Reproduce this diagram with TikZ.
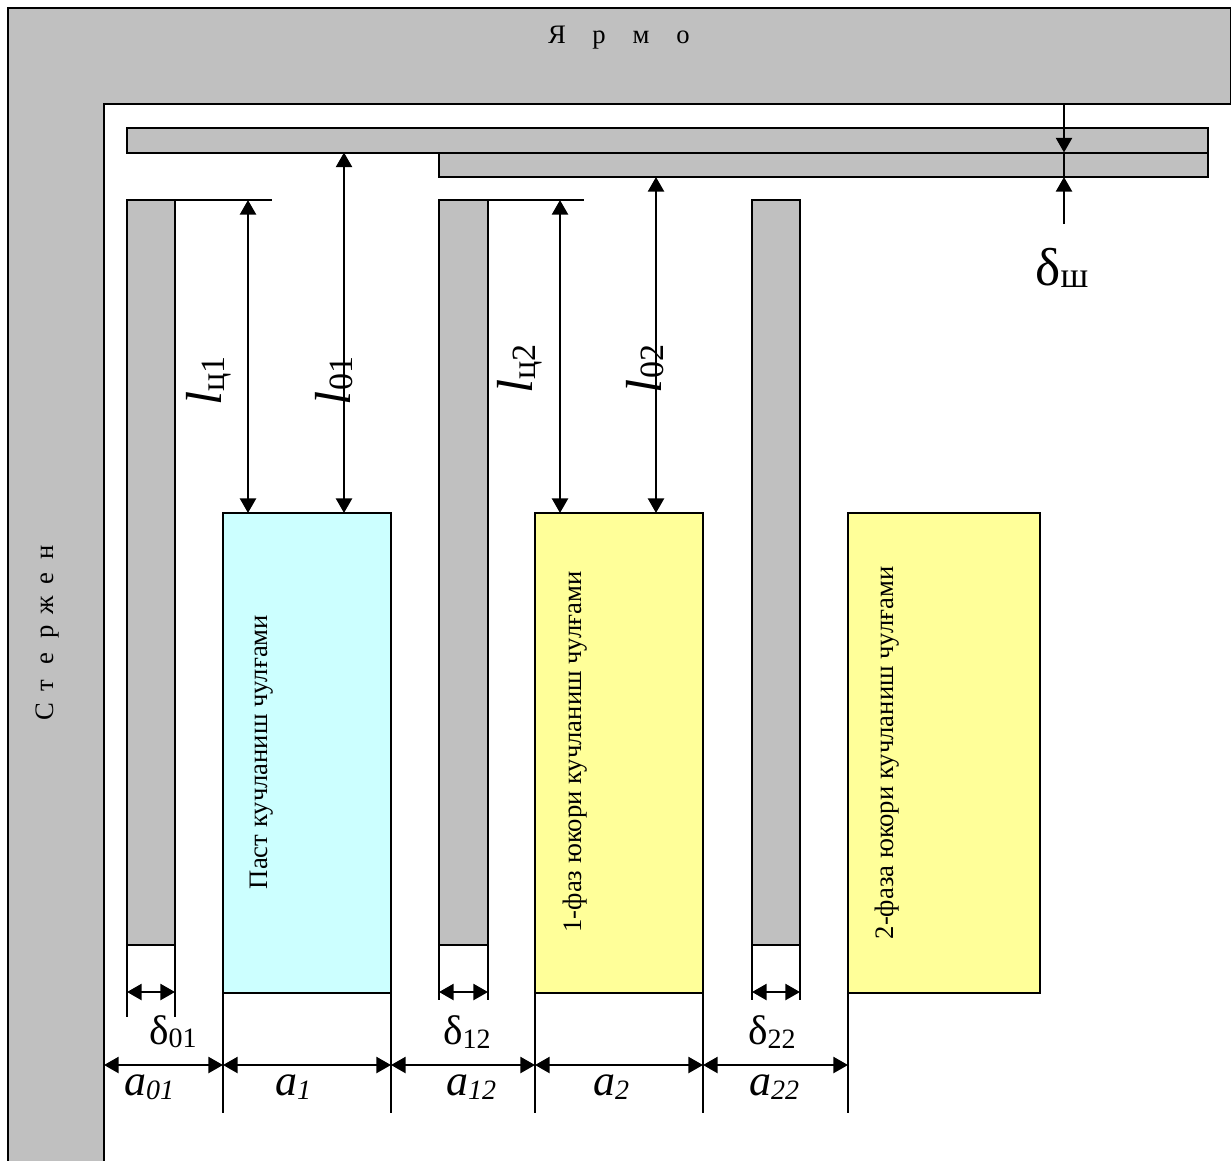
\documentclass[tikz,border=0pt]{standalone}
\usepackage{fontspec}
\setmainfont{Liberation Serif}
\usetikzlibrary{arrows.meta}
\newcommand{\fsz}[1]{\fontsize{#1}{#1}\selectfont}
\newcommand{\rectnode}[6]{%
  \pgfmathsetlengthmacro{\rw}{(#4-#2)*0.75pt}%
  \pgfmathsetlengthmacro{\rh}{(#5-#3)*0.75pt}%
  \node[#6,minimum width=\rw,minimum height=\rh] (#1) at ({(#2+#4)/2},{(#3+#5)/2}) {};}
\newcommand{\dellab}[1]{{\fsz{31pt}δ}\raisebox{-0.25em}{\fsz{21pt}#1}}
\newcommand{\alab}[1]{{\fsz{33pt}\itshape a}\raisebox{-0.28em}{\fsz{21pt}\itshape #1}}
\newcommand{\lenlab}[1]{{\fsz{38pt}\itshape l}\raisebox{-0.2em}{\fsz{25.5pt}#1}}
\newcommand{\spc}[2]{\makebox[#1]{#2}}
\definecolor{gray75}{HTML}{C0C0C0}
\definecolor{cyanlt}{HTML}{CCFFFF}
\definecolor{yellowlt}{HTML}{FFFF99}
\tikzset{
  box/.style={draw=black,line width=1.5pt,inner sep=0pt,outer sep=0pt,rectangle},
  metal/.style={box,fill=gray75},
  lowcoil/.style={box,fill=cyanlt},
  highcoil/.style={box,fill=yellowlt},
  dimline/.style={line width=1.9pt,{Triangle[length=11pt,width=12pt]}-{Triangle[length=11pt,width=12pt]}},
  dimone/.style={line width=1.9pt,-{Triangle[length=11pt,width=12pt]}},
  ext/.style={line width=1.3pt},
  lab/.style={inner sep=0pt,outer sep=0pt},
  coiltext/.style={lab,rotate=90,font=\fsz{20pt}},
}
\begin{document}
\begin{tikzpicture}[x=0.75pt,y=-0.75pt]
\useasboundingbox (0,0) rectangle (1231,1160);
\fill[white] (0,0) rectangle (1231,1160);
% core
\begin{scope}
\clip (0,0) rectangle (1231,1160);
\draw[metal,line join=miter] (1240,8) -- (8,8) -- (8,1170) -- (104,1170) -- (104,104) -- (1240,104);
\draw[line width=1.5pt] (1230.5,8) -- (1230.5,104);
\end{scope}
\node[lab,font=\fsz{20pt}] (yarmo) at (620,38) {\spc{31.5pt}{Я}\spc{31.5pt}{р}\spc{31.5pt}{м}\spc{31.5pt}{о}};
\node[lab,rotate=90,font=\fsz{20pt}] (sterzhen) at (48,632) {\spc{20pt}{С}\spc{20pt}{т}\spc{20pt}{е}\spc{20pt}{р}\spc{20pt}{ж}\spc{20pt}{е}\spc{20pt}{н}};
% top bars
\rectnode{barA}{127}{128}{1208}{152.5}{metal}
\rectnode{barB}{439}{152.5}{1208}{177}{metal}
% cylinders
\rectnode{cylA}{127}{200}{175}{945}{metal}
\rectnode{cylB}{439}{200}{488}{945}{metal}
\rectnode{cylC}{752}{200}{800}{945}{metal}
% coils
\rectnode{coilA}{223}{513}{391}{993}{lowcoil}
\rectnode{coilB}{535}{513}{703}{993}{highcoil}
\rectnode{coilC}{848}{513}{1040}{993}{highcoil}
\node[coiltext] (tA) at (262,752) {Паст кучланиш чулғами};
\node[coiltext] (tB) at (575,752) {1-фаз юкори кучланиш чулғами};
\node[coiltext] (tC) at (887,753) {2-фаза юкори кучланиш чулғами};
% named free ends
\coordinate (yokeB) at (1064,104);
\coordinate (shEnd) at (1064,224);
\coordinate (lcA) at (272,200);
\coordinate (lcB) at (584,200);
\coordinate (tickA) at (248,200);
\coordinate (tickB) at (560,200);
\coordinate (tickC) at (344,200);
\coordinate (tickD) at (656,200);
\coordinate (stemR) at (104,1065);
% leaders at cylinder tops
\draw[ext] (cylA.north east) -- (lcA);
\draw[ext] (cylB.north east) -- (lcB);
% vertical dimensions
\draw[dimline] (tickA) -- (tickA |- coilA.north);
\draw[dimline] (tickC |- barA.south) -- (tickC |- coilA.north);
\draw[dimline] (tickB) -- (tickB |- coilB.north);
\draw[dimline] (tickD |- barB.south) -- (tickD |- coilB.north);
% shim
\draw[dimone] (yokeB) -- (yokeB |- barA.south);
\draw[dimone] (shEnd) -- (shEnd |- barB.south);
\draw[line width=1pt] (yokeB |- barA.south) -- (yokeB |- barB.south);
% extension lines under cylinders
\draw[ext] (cylA.south west) -- ++(0,72);
\draw[ext] (cylA.south east) -- ++(0,72);
\draw[ext] (cylB.south west) -- ++(0,55);
\draw[ext] (cylB.south east) -- ++(0,55);
\draw[ext] (cylC.south west) -- ++(0,55);
\draw[ext] (cylC.south east) -- ++(0,55);
% extension lines under coils
\draw[ext] (coilA.south west) -- ++(0,120) coordinate (eA);
\draw[ext] (coilA.south east) -- ++(0,120) coordinate (eB);
\draw[ext] (coilB.south west) -- ++(0,120) coordinate (eC);
\draw[ext] (coilB.south east) -- ++(0,120) coordinate (eD);
\draw[ext] (coilC.south west) -- ++(0,120) coordinate (eE);
% small dims
\coordinate (smallY) at (0,992);
\draw[dimline] (cylA.south west |- smallY) -- (cylA.south east |- smallY);
\draw[dimline] (cylB.south west |- smallY) -- (cylB.south east |- smallY);
\draw[dimline] (cylC.south west |- smallY) -- (cylC.south east |- smallY);
% lower dims
\draw[dimline] (stemR) -- (eA |- stemR);
\draw[dimline] (eA |- stemR) -- (eB |- stemR);
\draw[dimline] (eB |- stemR) -- (eC |- stemR);
\draw[dimline] (eC |- stemR) -- (eD |- stemR);
\draw[dimline] (eD |- stemR) -- (eE |- stemR);
% labels
\node[lab] (d01) at (173,1032) {\dellab{01}};
\node[lab] (d12) at (467,1032) {\dellab{12}};
\node[lab] (d22) at (772,1032) {\dellab{22}};
\node[lab] (a01) at (149,1087) {\alab{01}};
\node[lab] (a1) at (293,1087) {\alab{1}};
\node[lab] (a12) at (471,1087) {\alab{12}};
\node[lab] (a2) at (611,1087) {\alab{2}};
\node[lab] (a22) at (774,1087) {\alab{22}};
\node[lab] (dsh) at (1062,268) {{\fsz{40pt}δ}\raisebox{-0.2em}{\fsz{27pt}ш}};
\node[lab,rotate=90] (lc1) at (209,381) {\lenlab{ц1}};
\node[lab,rotate=90] (l01) at (334,381) {\lenlab{01}};
\node[lab,rotate=90] (lc2) at (520,369) {\lenlab{ц2}};
\node[lab,rotate=90] (l02) at (645,369) {\lenlab{02}};
\end{tikzpicture}
\end{document}
